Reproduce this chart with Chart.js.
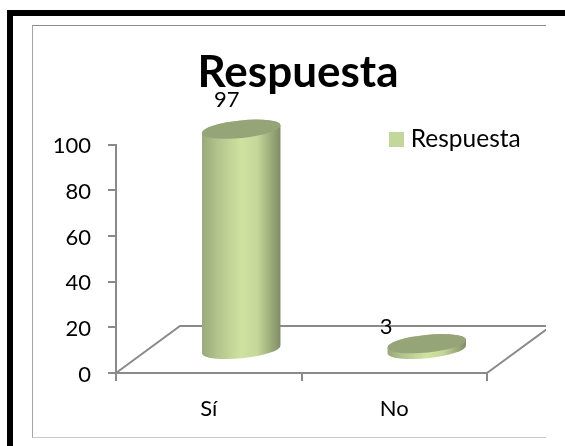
<!DOCTYPE html>
<html>
<head>
<meta charset="utf-8">
<title>Respuesta</title>
<script src="https://cdn.jsdelivr.net/npm/chart.js@4"></script>
<style>
    html, body { margin: 0; padding: 0; background: #fff; overflow: hidden; }
    #page { position: absolute; left: 7px; top: 10px; width: 558px; height: 436px; border-left: 6px solid #000; border-top: 6px solid #000; box-sizing: border-box; }
    #frame { position: absolute; left: 19px; top: 9px; width: 514px; height: 413px; background: #fff; border-top: 1px solid #8c8c8c; border-left: 1px solid #a6a6a6; border-bottom: 1px solid #c8c8c8; box-sizing: border-box; }
    canvas { display: block; }
</style>
</head>
<body>
<div id="page">
    <div id="frame"><canvas id="answerChart" width="513" height="411"></canvas></div>
</div>
<script>
const categories = ["Sí", "No"];
const answerValues = [97, 3];
const seriesName = "Respuesta";
const yTicks = [0, 20, 40, 60, 80, 100];

const AXIS_COLOR = "#8a8a8a";
const SERIES_COLOR = "#c3d69b";
const FONT = "Lato, Carlito, Calibri, sans-serif";

// Depth of the fake 3D floor, and where a bar stands on it
const FLOOR_DX = 64;
const FLOOR_DY = 47;
const BAR_DX = 32.5;
const BAR_DY = 22.5;

// Value labels were nudged by hand away from their bars
const labelShift = [
    { x: 18, y: -52 },
    { x: -8, y: -39 }
];

// Tilted ellipse shared by the cylinder caps
const CAP_RY = 8.8;
const CAP_TILT = -5.8 * Math.PI / 180;

// Legend swatch as a small canvas so its size doesn't push the text away
const swatch = document.createElement("canvas");
swatch.width = 15;
swatch.height = 15;
const swatchCtx = swatch.getContext("2d");
swatchCtx.fillStyle = SERIES_COLOR;
swatchCtx.fillRect(0, 0, 15, 15);

function drawCylinder(ctx, cx, topY, baseY, rx) {
    const body = ctx.createLinearGradient(cx - rx, 0, cx + rx, 0);
    body.addColorStop(0, "#98a87a");
    body.addColorStop(0.2, "#b3c48d");
    body.addColorStop(0.5, "#cfe2a0");
    body.addColorStop(0.7, "#c6d899");
    body.addColorStop(1, "#7f8c64");

    ctx.beginPath();
    ctx.ellipse(cx, baseY, rx, CAP_RY, CAP_TILT, 0, Math.PI);
    ctx.ellipse(cx, topY, rx, CAP_RY, CAP_TILT, Math.PI, Math.PI * 2);
    ctx.closePath();
    ctx.fillStyle = body;
    ctx.fill();

    ctx.beginPath();
    ctx.ellipse(cx, topY, rx, CAP_RY, CAP_TILT, 0, Math.PI * 2);
    ctx.fillStyle = "#95a578";
    ctx.fill();
}

const floorAndCylinders = {
    id: "floorAndCylinders",
    afterLayout(chart) {
        // Title sits right of centre, legend floats over the plot
        chart.titleBlock.left += 38;
        chart.titleBlock.right += 38;
        const legend = chart.legend;
        legend.left = 355;
        legend.right = legend.left + legend.width;
        legend.top = 95;
        legend.bottom = legend.top + legend.height;
    },
    beforeDatasetsDraw(chart) {
        const ctx = chart.ctx;
        const left = chart.scales.x.left;
        const right = chart.scales.x.right;
        const y0 = chart.scales.y.getPixelForValue(0);

        ctx.save();
        ctx.strokeStyle = AXIS_COLOR;
        ctx.lineWidth = 2;
        ctx.beginPath();
        ctx.moveTo(left, y0);
        ctx.lineTo(left + FLOOR_DX, y0 - FLOOR_DY);
        ctx.lineTo(right + FLOOR_DX, y0 - FLOOR_DY);
        ctx.lineTo(right, y0);
        ctx.stroke();
        ctx.restore();
    },
    beforeDatasetDraw(chart, args) {
        const ctx = chart.ctx;
        ctx.save();
        chart.getDatasetMeta(args.index).data.forEach(bar => {
            const rx = bar.width / 2;
            drawCylinder(ctx, bar.x + BAR_DX, bar.y - BAR_DY, bar.base - BAR_DY, rx);
        });
        ctx.restore();
        return false;
    },
    afterDatasetsDraw(chart) {
        const ctx = chart.ctx;
        ctx.save();
        ctx.fillStyle = "#000";
        ctx.font = "22px " + FONT;
        ctx.textAlign = "center";
        ctx.textBaseline = "middle";
        chart.getDatasetMeta(0).data.forEach((bar, i) => {
            ctx.fillText(String(answerValues[i]), bar.x + labelShift[i].x, bar.y + labelShift[i].y);
        });
        ctx.restore();
    }
};

new Chart(document.getElementById("answerChart"), {
    type: "bar",
    data: {
        labels: categories,
        datasets: [{
            label: seriesName,
            data: answerValues,
            backgroundColor: SERIES_COLOR,
            barPercentage: 0.85,
            categoryPercentage: 0.5
        }]
    },
    options: {
        responsive: false,
        animation: false,
        layout: { padding: { left: 0, right: 59, top: 0, bottom: 0 } },
        plugins: {
            title: {
                display: true,
                text: seriesName,
                color: "#000",
                font: { family: FONT, size: 44, weight: "bold" },
                padding: { top: 20, bottom: 46 }
            },
            legend: {
                position: "chartArea",
                align: "start",
                labels: {
                    color: "#000",
                    font: { family: FONT, size: 24.5 },
                    usePointStyle: true,
                    pointStyle: swatch,
                    boxWidth: 4.5,
                    boxHeight: 15,
                    padding: 6
                }
            },
            tooltip: { enabled: false }
        },
        scales: {
            x: {
                afterFit(scale) { scale.height = 64; },
                grid: { drawOnChartArea: false, color: AXIS_COLOR, tickLength: 8, lineWidth: 2 },
                border: { color: AXIS_COLOR, width: 2 },
                ticks: { color: "#000", font: { family: FONT, size: 22 }, padding: 15 }
            },
            y: {
                min: 0,
                max: 100,
                afterFit(scale) { scale.width = 83; },
                afterBuildTicks(scale) { scale.ticks = yTicks.map(value => ({ value })); },
                grid: { drawOnChartArea: false, color: AXIS_COLOR, tickLength: 8, lineWidth: 2 },
                border: { color: AXIS_COLOR, width: 2 },
                ticks: { color: "#000", font: { family: FONT, size: 22 }, padding: 17, labelOffset: 1.5 }
            }
        }
    },
    plugins: [floorAndCylinders]
});
</script>
</body>
</html>
